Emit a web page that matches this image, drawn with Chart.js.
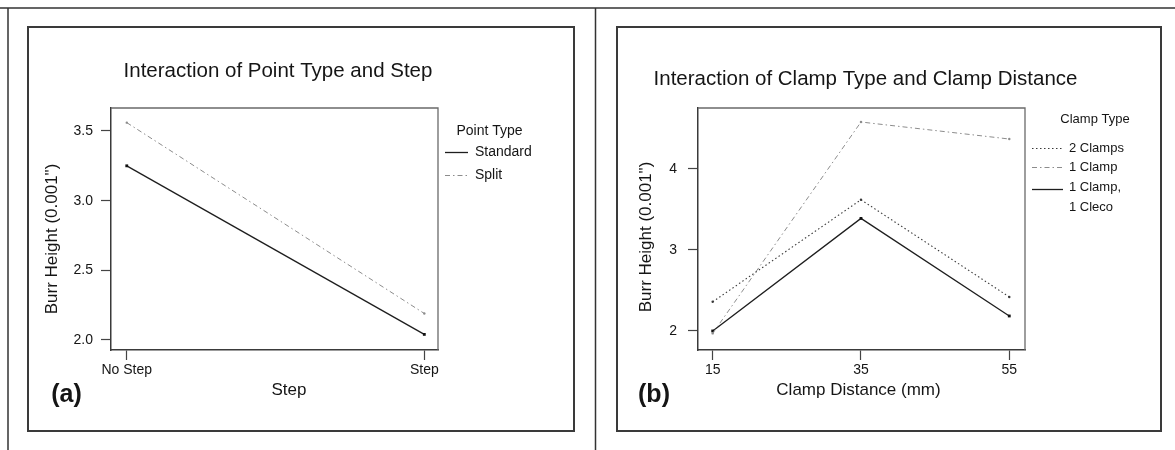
<!DOCTYPE html>
<html>
<head>
<meta charset="utf-8">
<script src="https://cdn.jsdelivr.net/npm/chart.js@4.4.1/dist/chart.umd.min.js"></script>
<style>
  html, body { margin: 0; padding: 0; background: #fff; }
  #page { position: relative; width: 1175px; height: 450px; overflow: hidden; }
  .panel { position: absolute; top: 0; height: 450px; }
  #panelA { left: 0; width: 590px; }
  #panelB { left: 590px; width: 585px; }
</style>
</head>
<body>
<div id="page">
  <div class="panel" id="panelA"><canvas id="chartA" width="590" height="450"></canvas></div>
  <div class="panel" id="panelB"><canvas id="chartB" width="585" height="450"></canvas></div>
</div>
<script>
// (a) point type x step
const stepLevels = ["No Step", "Step"];
const standardHeights = [3.25, 2.04];
const splitHeights = [3.56, 2.19];
const burrTicksA = [2.0, 2.5, 3.0, 3.5];

// (b) clamp type x clamp distance
const clampDistances = [15, 35, 55];
const twoClampsHeights = [2.36, 3.62, 2.42];
const oneClampHeights = [1.97, 4.58, 4.37];
const clampClecoHeights = [2.0, 3.39, 2.185];
const burrTicksB = [2, 3, 4];

const FONT = '"Liberation Sans", Arial, Helvetica, sans-serif';
const INK = '#151515';

// frame, titles, legend and panel letter drawn around the plot
const decor = {
  id: 'decor',
  afterDraw(chart, args, o) {
    const ctx = chart.ctx;
    const a = chart.chartArea;
    ctx.save();

    // page rules
    ctx.strokeStyle = '#333';
    ctx.lineWidth = 1.5;
    ctx.beginPath();
    ctx.moveTo(0, 8); ctx.lineTo(chart.width, 8);
    ctx.moveTo(o.ruleX, 8); ctx.lineTo(o.ruleX, 450);
    ctx.stroke();

    // panel frame
    ctx.strokeStyle = '#3a3a3a';
    ctx.lineWidth = 2;
    ctx.strokeRect(o.frame[0], o.frame[1], o.frame[2], o.frame[3]);

    // top and right of the plot box
    ctx.strokeStyle = '#6a6a6a';
    ctx.lineWidth = 1.3;
    ctx.beginPath();
    ctx.moveTo(a.left, a.top); ctx.lineTo(a.right, a.top); ctx.lineTo(a.right, a.bottom);
    ctx.stroke();

    ctx.fillStyle = INK;
    ctx.textBaseline = 'middle';
    ctx.textAlign = 'center';

    ctx.font = '20.5px ' + FONT;
    ctx.fillText(o.title, o.titleAt[0], o.titleAt[1]);

    ctx.font = '17px ' + FONT;
    ctx.fillText(o.xTitle, o.xTitleAt[0], o.xTitleAt[1]);
    ctx.save();
    ctx.translate(o.yTitleAt[0], o.yTitleAt[1]);
    ctx.rotate(-Math.PI / 2);
    ctx.fillText(o.yTitle, 0, 0);
    ctx.restore();

    ctx.font = 'bold 25px ' + FONT;
    ctx.fillText(o.panel, o.panelAt[0], o.panelAt[1]);

    // legend
    const lg = o.legend;
    ctx.font = lg.size + 'px ' + FONT;
    ctx.fillText(lg.title, lg.titleAt[0], lg.titleAt[1]);
    ctx.textAlign = 'left';
    chart.data.datasets.forEach((ds, i) => {
      const y = lg.rows[i];
      ctx.strokeStyle = ds.borderColor;
      ctx.lineWidth = ds.borderWidth;
      ctx.setLineDash(ds.borderDash || []);
      ctx.beginPath();
      ctx.moveTo(lg.x0, y + 0.5); ctx.lineTo(lg.x1, y + 0.5);
      ctx.stroke();
      ctx.setLineDash([]);
      ds.label.split('\n').forEach((line, k) => {
        ctx.fillText(line, lg.textX, y - (k === 0 && ds.label.includes('\n') ? 2 : 0) + k * 18);
      });
    });

    ctx.restore();
  }
};
Chart.register(decor);

function axes(xOpts, yOpts) {
  const grid = { drawOnChartArea: false, drawTicks: true, tickLength: 10, tickColor: '#444', tickWidth: 1.2 };
  const border = { display: true, color: '#3a3a3a', width: 1.5 };
  const tickFont = { family: FONT, size: 14 };
  return {
    x: Object.assign({
      type: 'linear',
      grid: grid,
      border: border,
      afterFit: (s) => { s.height = 40; },
      ticks: Object.assign({ font: tickFont, color: INK, padding: 2, autoSkip: false, maxRotation: 0 }, xOpts.ticks)
    }, xOpts.scale),
    y: Object.assign({
      type: 'linear',
      grid: grid,
      border: border,
      afterFit: (s) => { s.width = 60; },
      ticks: Object.assign({ font: tickFont, color: INK, autoSkip: false }, yOpts.ticks)
    }, yOpts.scale)
  };
}

const solid = { borderColor: '#1e1e1e', borderWidth: 1.3, pointStyle: 'rect', pointRadius: 2, pointBackgroundColor: '#111', pointBorderWidth: 0 };
const dashDot = { borderColor: '#8c8c8c', borderWidth: 1, borderDash: [5, 3, 1.5, 3], pointRadius: 1.2, pointBackgroundColor: '#8c8c8c', pointBorderWidth: 0 };
const dotted = { borderColor: '#3a3a3a', borderWidth: 1.1, borderDash: [1.5, 2.5], pointRadius: 1.2, pointBackgroundColor: '#3a3a3a', pointBorderWidth: 0 };

new Chart(document.getElementById('chartA'), {
  type: 'line',
  data: {
    datasets: [
      Object.assign({ label: 'Standard', data: stepLevels.map((s, i) => ({ x: i, y: standardHeights[i] })) }, solid),
      Object.assign({ label: 'Split', data: stepLevels.map((s, i) => ({ x: i, y: splitHeights[i] })) }, dashDot)
    ]
  },
  options: {
    responsive: false,
    animation: false,
    layout: { padding: { left: 51, right: 152, top: 108, bottom: 60 } },
    plugins: {
      legend: { display: false },
      tooltip: { enabled: false },
      decor: {
        ruleX: 8,
        frame: [28, 27, 546, 404],
        title: 'Interaction of Point Type and Step', titleAt: [278, 71],
        xTitle: 'Step', xTitleAt: [289, 390],
        yTitle: 'Burr Height (0.001")', yTitleAt: [52, 239],
        panel: '(a)', panelAt: [66.5, 395],
        legend: { title: 'Point Type', titleAt: [489.5, 131], size: 14, x0: 445, x1: 468, textX: 475, rows: [152, 175] }
      }
    },
    scales: axes(
      {
        scale: { min: -0.053, max: 1.046, afterBuildTicks: (s) => { s.ticks = stepLevels.map((_, i) => ({ value: i })); } },
        ticks: { callback: (v) => stepLevels[v] }
      },
      {
        scale: { min: 1.928, max: 3.665, afterBuildTicks: (s) => { s.ticks = burrTicksA.map((v) => ({ value: v })); } },
        ticks: { padding: 8, callback: (v) => v.toFixed(1) }
      }
    )
  }
});

new Chart(document.getElementById('chartB'), {
  type: 'line',
  data: {
    datasets: [
      Object.assign({ label: '2 Clamps', data: clampDistances.map((d, i) => ({ x: d, y: twoClampsHeights[i] })) }, dotted),
      Object.assign({ label: '1 Clamp', data: clampDistances.map((d, i) => ({ x: d, y: oneClampHeights[i] })) }, dashDot),
      Object.assign({ label: '1 Clamp,\n1 Cleco', data: clampDistances.map((d, i) => ({ x: d, y: clampClecoHeights[i] })) }, solid)
    ]
  },
  options: {
    responsive: false,
    animation: false,
    layout: { padding: { left: 48, right: 150, top: 108, bottom: 60 } },
    plugins: {
      legend: { display: false },
      tooltip: { enabled: false },
      decor: {
        ruleX: 5.5,
        frame: [27, 27, 544, 404],
        title: 'Interaction of Clamp Type and Clamp Distance', titleAt: [275.5, 79],
        xTitle: 'Clamp Distance (mm)', xTitleAt: [268.5, 390],
        yTitle: 'Burr Height (0.001")', yTitleAt: [56, 237],
        panel: '(b)', panelAt: [64, 395],
        legend: { title: 'Clamp Type', titleAt: [505, 119], size: 13, x0: 442, x1: 473, textX: 479, rows: [148, 167, 189] }
      }
    },
    scales: axes(
      {
        scale: { min: 13.02, max: 57.12, afterBuildTicks: (s) => { s.ticks = clampDistances.map((v) => ({ value: v })); } },
        ticks: { callback: (v) => String(v) }
      },
      {
        scale: { min: 1.765, max: 4.753, afterBuildTicks: (s) => { s.ticks = burrTicksB.map((v) => ({ value: v })); } },
        ticks: { padding: 11, callback: (v) => String(v) }
      }
    )
  }
});
</script>
</body>
</html>
